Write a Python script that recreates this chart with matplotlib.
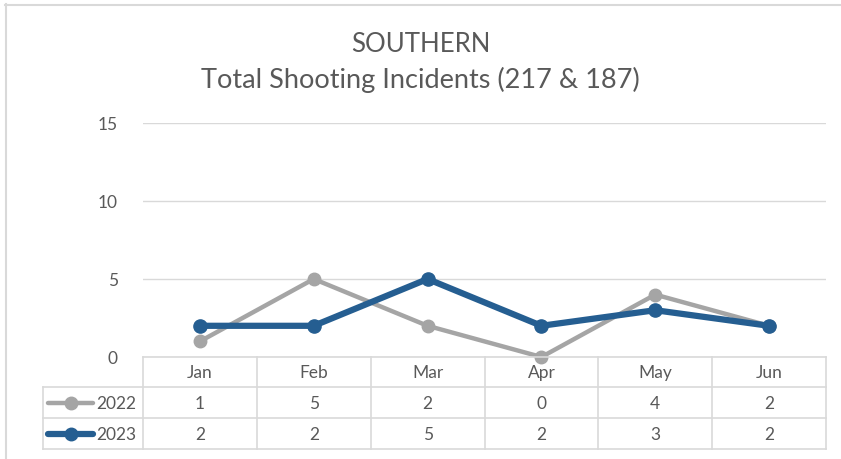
import matplotlib
matplotlib.use("Agg")
import matplotlib.pyplot as plt
from matplotlib.lines import Line2D

months = ["Jan", "Feb", "Mar", "Apr", "May", "Jun"]
s2022 = [1, 5, 2, 0, 4, 2]
s2023 = [2, 2, 5, 2, 3, 2]
series_names = ["2022", "2023"]
yticks = [0, 5, 10, 15]

W, H = 841, 460
plt.rcParams['font.family'] = ['Lato', 'DejaVu Sans']
fig = plt.figure(figsize=(W / 100, H / 100), dpi=100)

def fx(px):
    return px / W

def fy(py):
    return 1 - py / H

TXT = "#595959"
GRID = "#D9D9D9"
C22 = "#A5A5A5"
C23 = "#255E91"

# outer border (top and left only visible)
fig.add_artist(Line2D([fx(5), 1], [fy(5.5), fy(5.5)], color=GRID, lw=1.5))
fig.add_artist(Line2D([fx(5.5), fx(5.5)], [fy(5), 0], color=GRID, lw=1.5))

x0, x1 = 143, 826
y_top, y_bot = 124, 358
ax = fig.add_axes([fx(x0), fy(y_bot), fx(x1) - fx(x0), fy(y_top) - fy(y_bot)])
ax.set_xlim(-0.5, len(months) - 0.5)
ax.set_ylim(0, 15)
for s in ax.spines.values():
    s.set_visible(False)
ax.set_xticks([])
ax.set_yticks(yticks)
ax.tick_params(axis='y', length=0, pad=18, labelsize=12.5, labelcolor=TXT)
ax.yaxis.grid(True, color=GRID, lw=1)
ax.set_axisbelow(True)

xs = list(range(len(months)))
ax.plot(xs, s2022, color=C22, lw=3.2, marker='o', ms=9, zorder=3, clip_on=False)
ax.plot(xs, s2023, color=C23, lw=4.5, marker='o', ms=9.5, zorder=4, clip_on=False)

fig.text(0.5, fy(44), "SOUTHERN", ha='center', va='center', fontsize=18.5, color=TXT)
fig.text(0.5, fy(80), "Total Shooting Incidents (217 & 187)", ha='center', va='center',
         fontsize=19.5, color=TXT)

# data table
rows_y = [358, 388, 419, 450]
leg_x = 43
colw = (x1 - x0) / len(months)
lc = GRID
fig.add_artist(Line2D([fx(x0), fx(x1)], [fy(358), fy(358)], color=lc, lw=1.2))
for yy in rows_y[1:]:
    fig.add_artist(Line2D([fx(leg_x), fx(x1)], [fy(yy), fy(yy)], color=lc, lw=1.2))
for k in range(len(months) + 1):
    xx = x0 + k * colw
    fig.add_artist(Line2D([fx(xx), fx(xx)], [fy(358), fy(450)], color=lc, lw=1.2))
fig.add_artist(Line2D([fx(leg_x), fx(leg_x)], [fy(388), fy(450)], color=lc, lw=1.2))

for i, m in enumerate(months):
    cx = fx(x0 + (i + 0.5) * colw)
    fig.text(cx, fy(373), m, ha='center', va='center', fontsize=12.5, color=TXT)
    fig.text(cx, fy(404), str(s2022[i]), ha='center', va='center', fontsize=12.5, color=TXT)
    fig.text(cx, fy(435), str(s2023[i]), ha='center', va='center', fontsize=12.5, color=TXT)

for name, yy, col, lw in [(series_names[0], 404, C22, 3.2), (series_names[1], 435, C23, 4.5)]:
    fig.add_artist(Line2D([fx(48), fx(93)], [fy(yy), fy(yy)], color=col, lw=lw,
                          solid_capstyle='round'))
    fig.add_artist(Line2D([fx(70.5)], [fy(yy)], color=col, marker='o', ms=9, lw=0))
    fig.text(fx(96), fy(yy), name, ha='left', va='center', fontsize=12.5, color=TXT)

fig.savefig("out.png", dpi=100)
